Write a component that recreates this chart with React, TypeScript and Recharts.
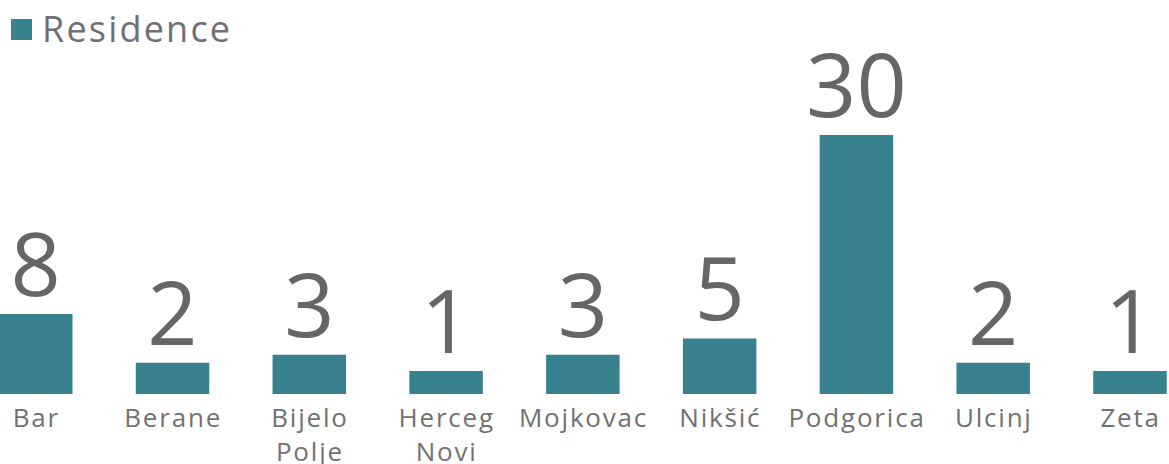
import React from 'react';
import { BarChart, Bar, XAxis, YAxis, LabelList, Legend } from 'recharts';

const categories = ['Bar', 'Berane', 'Bijelo Polje', 'Herceg Novi', 'Mojkovac', 'Nikšić', 'Podgorica', 'Ulcinj', 'Zeta'];
const residence = [8, 2, 3, 1, 3, 5, 30, 2, 1];
const seriesName = 'Residence';
const axisMin = -1.83;
const axisMax = 30;

const data = categories.map((c, i) => ({ category: c, value: residence[i] }));

const FONT = '"Open Sans", sans-serif';
const BAR_COLOR = '#38818e';

const CategoryTick = (props: any) => {
  const { x, y, payload } = props;
  const words = String(payload.value).split(' ');
  return (
    <text x={x + 1} y={y} textAnchor="middle" fill="#717171" fontSize={26} fontFamily={FONT} letterSpacing={1.8}>
      {words.map((w: string, i: number) => (
        <tspan key={i} x={x + 1} dy={i === 0 ? 33 : 34}>{w}</tspan>
      ))}
    </text>
  );
};

const LegendContent = () => (
  <div style={{ display: 'flex', alignItems: 'center', fontFamily: FONT, fontSize: 36, color: '#707074', lineHeight: '44px', letterSpacing: 2.2, whiteSpace: 'nowrap' }}>
    <span style={{ display: 'inline-block', width: 21, height: 21, background: BAR_COLOR, marginRight: 10 }} />
    <span>{seriesName}</span>
  </div>
);

export default function App() {
  return (
    <div style={{ position: 'fixed', left: 0, top: 0, width: 1169, height: 464, overflow: 'hidden', background: '#fff' }}>
      <div style={{ position: 'absolute', left: -33, top: 0 }}>
        <BarChart width={1231} height={464} data={data} margin={{ top: 135, right: 0, bottom: 0, left: 0 }}>
          <XAxis dataKey="category" axisLine={false} tickLine={false} tickSize={0} tickMargin={0} height={70} interval={0} tick={<CategoryTick />} />
          <YAxis hide domain={[axisMin, axisMax]} allowDataOverflow />
          <Legend
            layout="horizontal"
            verticalAlign="middle"
            align="center"
            content={<LegendContent />}
            wrapperStyle={{ top: 7, left: 44, width: 'auto' }}
          />
          <Bar dataKey={(d: any) => [axisMin, d.value]} name={seriesName} fill={BAR_COLOR} barSize={73.5} isAnimationActive={false}>
            <LabelList dataKey="value" position="top" offset={18} fill="#666666" fontSize={88} fontFamily={FONT} />
          </Bar>
        </BarChart>
      </div>
    </div>
  );
}
